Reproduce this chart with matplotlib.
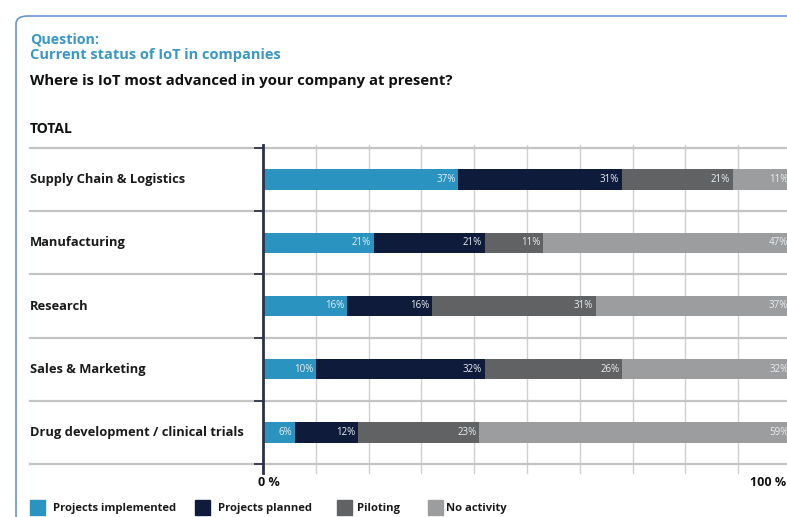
import matplotlib.pyplot as plt
import matplotlib.transforms as mtransforms
from matplotlib.patches import FancyBboxPatch, Rectangle

plt.rcParams['font.family'] = ['Open Sans', 'DejaVu Sans']

categories = ["Supply Chain & Logistics", "Manufacturing", "Research",
              "Sales & Marketing", "Drug development / clinical trials"]
series_names = ["Projects implemented", "Projects planned", "Piloting", "No activity"]
implemented = [37, 21, 16, 10, 6]
planned = [31, 21, 16, 32, 12]
piloting = [21, 11, 31, 26, 23]
no_activity = [11, 47, 37, 32, 59]
colors = ["#2a93c0", "#0e1b3b", "#606264", "#9c9d9f"]

W, H = 787, 517
fig = plt.figure(figsize=(W / 100, H / 100), dpi=100)


def fx(px):
    return px / W


def fy(py):
    return 1 - py / H


# rounded frame around the panel
frame = FancyBboxPatch((fx(16), fy(560)), fx(820), fy(16) - fy(560),
                       boxstyle="round,pad=0,rounding_size=0.015",
                       transform=fig.transFigure, fill=False,
                       edgecolor="#6a93d6", linewidth=1.2)
fig.patches.append(frame)

blue = "#3a98c6"
fig.text(fx(30), fy(40), "Question:", color=blue, fontsize=10.3, fontweight="bold", va="center")
fig.text(fx(30), fy(55), "Current status of IoT in companies", color=blue, fontsize=10.5,
         fontweight="bold", va="center")
fig.text(fx(30), fy(81), "Where is IoT most advanced in your company at present?",
         color="#111111", fontsize=10.7, fontweight="bold", va="center")
fig.text(fx(30), fy(129), "TOTAL", color="#111111", fontsize=10, fontweight="bold", va="center")

# plot area: 0% at x=263, 100% just past the right edge
top, bottom = 148, 464
ax = fig.add_axes([fx(263), fy(bottom), fx(528), (bottom - top) / H])
ax.set_xlim(0, 100)
ax.set_ylim(len(categories) - 0.5, -0.5)
ax.axis("off")

# vertical grid
for x in range(10, 101, 10):
    ax.plot([x, x], [-0.028, 1.01], color="#d0d0d0", linewidth=1,
            transform=ax.get_xaxis_transform(), clip_on=False, zorder=0)

# row separators, running from the labels to the edge
sep = mtransforms.blended_transform_factory(fig.transFigure, ax.transData)
for i in range(len(categories) + 1):
    y = i - 0.5
    ax.plot([fx(30), 1.0], [y, y], color="#c4c4c4", linewidth=1.6,
            transform=sep, clip_on=False, zorder=0)
    ax.plot([fx(255), fx(263)], [y, y], color="#3a3f52", linewidth=1.4,
            transform=sep, clip_on=False, zorder=3)

ax.plot([0, 0], [-0.028, 1.01], color="#2c3147", linewidth=2,
        transform=ax.get_xaxis_transform(), clip_on=False, zorder=4)

values = [implemented, planned, piloting, no_activity]
left = [0] * len(categories)
for vals, col in zip(values, colors):
    ax.barh(range(len(categories)), vals, left=left, height=0.32, color=col,
            edgecolor="none", zorder=2)
    for i, v in enumerate(vals):
        ax.text(left[i] + v - 0.5, i, f"{v}%", ha="right", va="center",
                fontsize=7, color="#e8eef2", zorder=5)
    left = [l + v for l, v in zip(left, vals)]

for i, cat in enumerate(categories):
    ax.text(fx(30), i, cat, transform=sep, ha="left", va="center",
            fontsize=9.3, fontweight="bold", color="#1a1a1a")

fig.text(fx(258), fy(482), "0 %", fontsize=9, fontweight="bold", color="#111111", va="center")
fig.text(fx(786), fy(482), "100 %", fontsize=9, fontweight="bold", color="#111111",
         va="center", ha="right")

# legend
legend_x = [(30, 53), (195, 218), (337, 357), (428, 446)]
for (sx, tx), name, col in zip(legend_x, series_names, colors):
    fig.patches.append(Rectangle((fx(sx), fy(515)), fx(15), fy(500) - fy(515),
                                 transform=fig.transFigure, color=col))
    fig.text(fx(tx), fy(508), name, fontsize=8.1, fontweight="bold",
             color="#1a1a1a", va="center")

fig.savefig("out.png", dpi=100)
